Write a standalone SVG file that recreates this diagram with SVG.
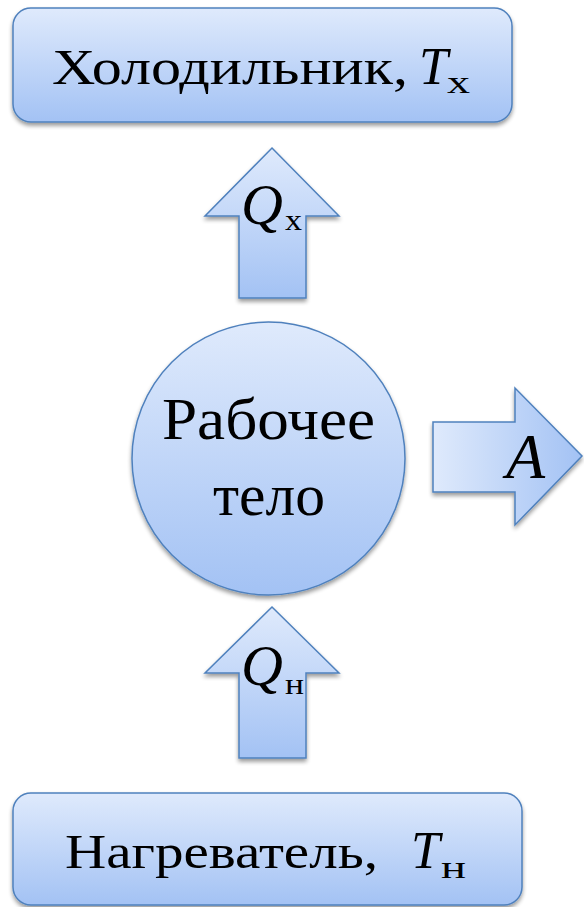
<svg xmlns="http://www.w3.org/2000/svg" width="584" height="907" viewBox="0 0 584 907">
<style>
.shape{stroke:#4f81bd;stroke-width:1.5;filter:url(#sh)}
.v{fill:url(#gv)}
</style>
<defs>
<linearGradient id="gv" x1="0" y1="0" x2="0" y2="1">
<stop offset="0" stop-color="#dfeafc"/>
<stop offset="1" stop-color="#a3c2f4"/>
</linearGradient>
<linearGradient id="gh" x1="0" y1="0" x2="1" y2="0">
<stop offset="0" stop-color="#dfeafc"/>
<stop offset="1" stop-color="#a3c2f4"/>
</linearGradient>
<filter id="sh" x="-10%" y="-10%" width="120%" height="125%">
<feGaussianBlur in="SourceAlpha" stdDeviation="2"/>
<feOffset dx="0" dy="3" result="b"/>
<feComponentTransfer><feFuncA type="linear" slope="0.4"/></feComponentTransfer>
<feMerge><feMergeNode/><feMergeNode in="SourceGraphic"/></feMerge>
</filter>
</defs>
<g id="cooler">
<rect class="shape v" x="13" y="8" width="499" height="114" rx="18"/>
<text font-family="Liberation Serif, DejaVu Serif, serif" fill="#000" x="52" y="84" font-size="50" textLength="356" lengthAdjust="spacingAndGlyphs">Холодильник,</text>
<text font-family="Liberation Serif, DejaVu Serif, serif" fill="#000" font-style="italic" x="419" y="84" font-size="52">T</text>
<text font-family="Liberation Serif, DejaVu Serif, serif" fill="#000" x="447" y="93" font-size="32" textLength="23" lengthAdjust="spacingAndGlyphs">х</text>
</g>
<g id="body">
<circle class="shape v" cx="268.5" cy="458.5" r="136.5"/>
<text font-family="Liberation Serif, DejaVu Serif, serif" fill="#000" x="162" y="439" font-size="60" textLength="213" lengthAdjust="spacingAndGlyphs">Рабочее</text>
<text font-family="Liberation Serif, DejaVu Serif, serif" fill="#000" x="213" y="515" font-size="60" textLength="112" lengthAdjust="spacingAndGlyphs">тело</text>
</g>
<g id="heater">
<rect class="shape v" x="13" y="793" width="509" height="112" rx="18"/>
<text font-family="Liberation Serif, DejaVu Serif, serif" fill="#000" x="65" y="868" font-size="48" textLength="313" lengthAdjust="spacingAndGlyphs">Нагреватель,</text>
<text font-family="Liberation Serif, DejaVu Serif, serif" fill="#000" font-style="italic" x="411" y="868" font-size="52">T</text>
<text font-family="Liberation Serif, DejaVu Serif, serif" fill="#000" x="441" y="878" font-size="32" textLength="25" lengthAdjust="spacingAndGlyphs">н</text>
</g>
<g id="connectors">
<g id="qx">
<polygon class="shape v" points="272,148 339,216 306,216 306,298 239,298 239,216 205,216"/>
<text font-family="Liberation Serif, DejaVu Serif, serif" fill="#000" font-style="italic" x="241" y="224" font-size="58">Q</text>
<text font-family="Liberation Serif, DejaVu Serif, serif" fill="#000" x="285" y="230" font-size="30" textLength="17" lengthAdjust="spacingAndGlyphs">х</text>
</g>
<g id="qh">
<polygon class="shape v" points="272,607 339,673 306,673 306,758 239,758 239,673 205,673"/>
<text font-family="Liberation Serif, DejaVu Serif, serif" fill="#000" font-style="italic" x="241" y="685" font-size="58">Q</text>
<text font-family="Liberation Serif, DejaVu Serif, serif" fill="#000" x="285" y="694" font-size="30" textLength="19" lengthAdjust="spacingAndGlyphs">н</text>
</g>
<g id="work">
<polygon class="shape" fill="url(#gh)" points="433,422 515,422 515,388 582,456 515,525 515,492 433,492"/>
<text font-family="Liberation Serif, DejaVu Serif, serif" fill="#000" font-style="italic" x="506" y="478" font-size="64">A</text>
</g>
</g>
</svg>
